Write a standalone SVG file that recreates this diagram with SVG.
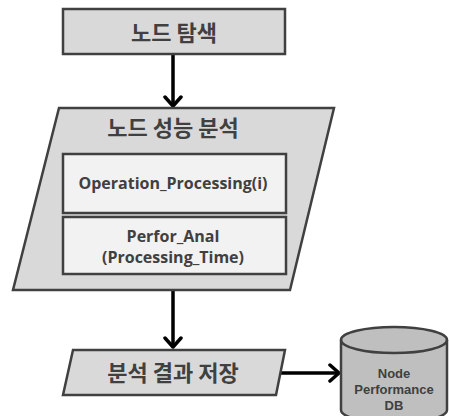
<svg xmlns="http://www.w3.org/2000/svg" width="449" height="416" viewBox="0 0 449 416">
<style>
.shape{fill:#d9d9d9;stroke:#404040;stroke-width:2.5;stroke-linejoin:miter}
.inner{fill:#f2f2f2;stroke:#404040;stroke-width:2.5}
.db{fill:#bfbfbf;stroke:#404040;stroke-width:2.5}
.kt{font-family:"Noto Sans CJK KR","Noto Sans",sans-serif;font-weight:bold;fill:#404040;text-anchor:middle}
.et{font-family:"Open Sans","Noto Sans",sans-serif;font-weight:bold;fill:#404040;text-anchor:middle}
.dt{font-family:"Liberation Sans",Arial,sans-serif;font-weight:bold;fill:#404040;text-anchor:middle;font-size:13px}
.conn{stroke:#000;stroke-width:3.5;fill:none}
</style>
<defs>
<marker id="arr" viewBox="0 0 20 20" refX="17" refY="10" markerWidth="20" markerHeight="20" markerUnits="userSpaceOnUse" orient="auto">
<path d="M8,2 L17,10 L8,18" fill="none" stroke="#000" stroke-width="3.5" stroke-linecap="round" stroke-linejoin="round"/>
</marker>
</defs>
<g id="connectors">
<line class="conn" x1="173" y1="54" x2="173" y2="106" marker-end="url(#arr)"/>
<line class="conn" x1="173" y1="290" x2="173" y2="347" marker-end="url(#arr)"/>
<line class="conn" x1="278" y1="373" x2="339" y2="373" marker-end="url(#arr)"/>
</g>
<g id="node-search">
<rect class="shape" x="63" y="9" width="222" height="45"/>
<text class="kt" x="174" y="41" font-size="22">노드 탐색</text>
</g>
<g id="node-analysis">
<polygon class="shape" points="59,108 334,108 290,290 13,290"/>
<text class="kt" x="173" y="136" font-size="22">노드 성능 분석</text>
</g>
<g id="node-operation">
<rect class="inner" x="63" y="154" width="223" height="59"/>
<text class="et" x="173" y="189" font-size="16">Operation_Processing(i)</text>
</g>
<g id="node-perfor">
<rect class="inner" x="63" y="217" width="223" height="57"/>
<text class="et" x="173" y="242" font-size="16">Perfor_Anal</text>
<text class="et" x="173" y="263" font-size="16">(Processing_Time)</text>
</g>
<g id="node-save">
<polygon class="shape" points="73,350 285,350 276,395 63,395"/>
<text class="kt" x="173" y="381" font-size="22">분석 결과 저장</text>
</g>
<g id="node-db">
<path class="db" d="M341,340 L341,410 A53,13 0 0 0 447,410 L447,340 A53,13 0 0 0 341,340 Z"/>
<path d="M341,340 A53,13 0 0 0 447,340" fill="none" stroke="#404040" stroke-width="2.5"/>
<text class="dt" x="394" y="378">Node</text>
<text class="dt" x="394" y="394">Performance</text>
<text class="dt" x="394" y="410">DB</text>
</g>
</svg>
